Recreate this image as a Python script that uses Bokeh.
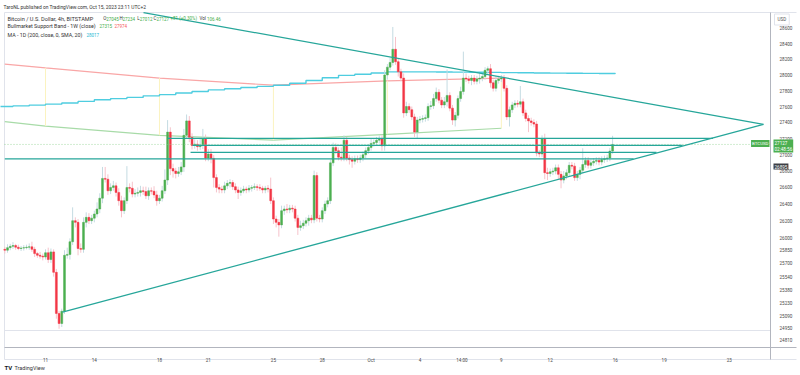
import math
from bokeh.plotting import figure
from bokeh.models import Range1d, FixedTicker, NumeralTickFormatter, Label
from bokeh.embed import file_html
from bokeh.resources import INLINE

# ---------------- data ----------------
first_open = 25860
candle_start = 8.5          # day-of-September of first 4h candle (Sep 8, 12:00)
candle_step = 1.0 / 6.0     # 4 hours in days
closes = [
    25850, 25880, 25895, 25905, 25885, 25870, 25875, 25880, 25885, 25890,
    25860, 25810, 25790, 25780, 25770, 25820, 25740, 25830, 25590, 25115,
    25000, 25140, 25790, 25800, 25950, 26200, 26180, 25870, 25860, 26180,
    26240, 26200, 26230, 26280, 26340, 26470, 26710, 26700, 26560, 26600,
    26620, 26540, 26440, 26320, 26440, 26600, 26590, 26520, 26530, 26540,
    26560, 26550, 26500, 26560, 26555, 26510, 26440, 26470, 26560, 26690,
    27280, 26830, 26800, 26770, 26790, 26850, 27240, 27420, 27215, 27115,
    27130, 27100, 27120, 27200, 26960, 27010, 26955, 26720, 26600, 26580,
    26570, 26620, 26650, 26660, 26610, 26570, 26540, 26560, 26580, 26570,
    26590, 26600, 26610, 26600, 26590, 26570, 26590, 26580, 26440, 26220,
    26180, 26150, 26320, 26340, 26330, 26350, 26340, 26230, 26120, 26140,
    26170, 26200, 26230, 26210, 26745, 26230, 26220, 26320, 26400, 26440,
    26900, 27090, 27050, 26970, 26960, 27180, 26960, 26940, 26920, 26950,
    26940, 26960, 27000, 27050, 27090, 27140, 27150, 27180, 27200, 27110,
    28000, 28100, 28160, 28330, 28170, 28040, 27960, 27520, 27600, 27560,
    27470, 27280, 27430, 27440, 27450, 27460, 27600, 27610, 27700, 27780,
    27680, 27620, 27660, 27740, 27580, 27430, 27490, 27700, 27790, 27960,
    27950, 27930, 27960, 27920, 27950, 27960, 27980, 28060, 28080, 27900,
    27830, 27930, 27950, 27960, 27830, 27470, 27560, 27620, 27640, 27630,
    27660, 27520, 27450, 27420, 27400, 27380, 27020, 27010, 27200, 26780,
    26770, 26790, 26800, 26840, 26760, 26690, 26740, 26780, 26870, 26860,
    26720, 26760, 26810, 26880, 26930, 26870, 26900, 26920, 26930, 26910,
    26940, 26950, 26960, 27045, 27127]
upper_wick = [
    30, 40, 30, 40, 20, 30, 25, 30, 30, 40,
    60, 30, 20, 40, 30, 40, 60, 40, 30, 40,
    30, 30, 60, 80, 40, 160, 40, 40, 60, 60,
    60, 50, 40, 40, 80, 60, 140, 140, 60, 50,
    60, 40, 50, 60, 40, 260, 50, 80, 50, 60,
    60, 50, 60, 40, 40, 60, 50, 40, 60, 130,
    150, 60, 60, 40, 60, 60, 80, 80, 60, 50,
    60, 50, 80, 120, 50, 60, 60, 40, 40, 40,
    40, 50, 40, 40, 30, 40, 40, 40, 40, 30,
    40, 30, 40, 30, 40, 30, 30, 40, 140, 40,
    40, 40, 60, 40, 60, 40, 40, 40, 40, 60,
    40, 40, 40, 40, 60, 40, 40, 40, 40, 40,
    40, 60, 50, 40, 120, 60, 40, 40, 40, 40,
    40, 40, 40, 40, 40, 60, 40, 40, 40, 40,
    60, 40, 60, 290, 160, 40, 40, 60, 60, 40,
    40, 40, 40, 40, 40, 40, 40, 60, 60, 60,
    40, 40, 60, 330, 40, 40, 40, 40, 60, 340,
    60, 40, 40, 40, 40, 60, 40, 40, 30, 60,
    40, 60, 40, 40, 40, 40, 40, 40, 40, 40,
    200, 40, 40, 40, 40, 40, 40, 40, 40, 60,
    60, 40, 40, 40, 40, 40, 60, 40, 40, 40,
    40, 40, 40, 200, 40, 40, 40, 40, 40, 40,
    40, 40, 40, 40, 107]
lower_wick = [
    40, 30, 30, 30, 30, 20, 30, 30, 20, 30,
    30, 40, 30, 30, 40, 30, 40, 40, 50, 60,
    60, 40, 30, 40, 60, 40, 60, 80, 40, 40,
    60, 40, 40, 50, 40, 50, 60, 40, 50, 40,
    40, 50, 60, 80, 40, 40, 50, 40, 40, 40,
    50, 40, 40, 50, 40, 40, 60, 40, 40, 40,
    60, 80, 80, 60, 40, 40, 60, 40, 60, 50,
    40, 50, 40, 50, 40, 40, 60, 120, 60, 50,
    40, 40, 40, 50, 40, 40, 80, 40, 30, 40,
    30, 40, 30, 40, 30, 40, 40, 40, 40, 60,
    60, 140, 40, 50, 40, 40, 40, 40, 90, 40,
    40, 40, 60, 40, 40, 40, 40, 40, 40, 40,
    40, 40, 40, 40, 40, 40, 40, 60, 80, 40,
    40, 40, 40, 40, 40, 40, 40, 40, 40, 60,
    60, 60, 40, 40, 40, 60, 40, 60, 40, 40,
    40, 60, 80, 40, 40, 40, 40, 40, 40, 40,
    40, 40, 40, 60, 40, 60, 80, 40, 40, 40,
    40, 40, 60, 40, 40, 60, 40, 40, 60, 60,
    40, 40, 40, 40, 40, 40, 120, 40, 40, 40,
    40, 40, 40, 140, 40, 40, 40, 40, 40, 80,
    80, 40, 40, 40, 60, 100, 40, 40, 40, 40,
    40, 40, 60, 40, 40, 40, 40, 40, 40, 40,
    40, 40, 40, 40, 33]

# Bullmarket Support Band (1W) – weekly points
band_days = [8.5, 11, 18, 25, 32, 39]
band_red = [28140, 28090, 27960, 27870, 27925, 27960]
band_green = [27410, 27355, 27240, 27180, 27253, 27328]

# MA 200 (1D) – daily values
ma_days = list(range(8, 47))
ma_values = [27600, 27608, 27618, 27630, 27645, 27665, 27685, 27700, 27715, 27735,
             27750, 27770, 27790, 27810, 27825, 27840, 27855, 27870, 27895, 27930,
             27965, 27995, 28010, 28025, 28040, 28040, 28040, 28038, 28036, 28035,
             28033, 28030, 28028, 28026, 28024, 28022, 28020, 28018, 28017]

# drawings: triangle lines and horizontal levels
upper_line_days = [17.02, 55.10]
upper_line_prices = [28809, 27376]
lower_line_days = [12.04, 55.10]
lower_line_prices = [25130, 27376]
level_prices = [27202, 27115, 27030, 26950]
level_start = [18.49, 20.03, 19.91, 8.5]
level_end = [52.0, 50.13, 48.53, 47.12]
last_price = 27127

# axis ticks
price_ticks = [24810, 24950, 25090, 25230, 25380, 25540, 25700, 25850, 26000, 26200,
               26400, 26600, 26800, 27000, 27200, 27400, 27600, 27800, 28000, 28200,
               28400, 28600]
day_ticks = [11, 14, 18, 21, 25, 28, 31, 34, 36.58, 39, 42, 46, 49, 53]
day_labels = ["11", "14", "18", "21", "25", "28", "Oct", "4", "14:00", "9", "12", "16", "19", "23"]

# ---------------- layout helpers (pixel <-> data of the pane) ----------------
W, H = 800, 375


def dx(px):      # page x -> day
    return 11 + (px - 45) / 16.28


def py(yp):      # page y -> price (log scale)
    return 26000 * math.exp((237 - yp) / 2193)


# ---------------- derived ----------------
n = len(closes)
times = [candle_start + i * candle_step for i in range(n)]
opens = [first_open] + closes[:-1]
highs = [max(o, c) + w for o, c, w in zip(opens, closes, upper_wick)]
lows = [min(o, c) - w for o, c, w in zip(opens, closes, lower_wick)]

UP, DOWN = "#4caf50", "#f23645"
UPW, DOWNW = "#c4dbe2", "#f6c3cb"
TEAL = "#26a69a"
FONT = "Roboto"
BORDER = "#e0e3eb"
AXLINE = "#b2b5be"

p = figure(width=W, height=H, x_range=Range1d(dx(0), dx(W)),
           y_range=Range1d(py(H), py(0)), y_axis_type="log", y_axis_location="right",
           output_backend="svg", toolbar_location=None,
           min_border_left=0, min_border_right=0, min_border_top=0, min_border_bottom=0)
p.background_fill_color = "white"
p.border_fill_color = "white"
p.outline_line_color = None
p.xgrid.visible = False
p.ygrid.visible = False

ax = p.yaxis[0]
ax.fixed_location = dx(770)
ax.bounds = (py(359), py(12))
ax.ticker = FixedTicker(ticks=price_ticks)
ax.formatter = NumeralTickFormatter(format="0")
ax.major_label_text_font_size = "4.6px"
ax.major_label_text_color = "#4a4a4a"
ax.major_label_text_font = FONT
ax.major_tick_line_color = None
ax.minor_tick_line_color = None
ax.axis_line_color = AXLINE
ax.major_label_standoff = 3

xa = p.xaxis[0]
xa.fixed_location = py(347)
xa.bounds = (dx(4), dx(796))
xa.ticker = FixedTicker(ticks=day_ticks)
xa.major_label_overrides = {t: l for t, l in zip(day_ticks, day_labels)}
xa.major_label_text_font_size = "4.6px"
xa.major_label_text_color = "#4a4a4a"
xa.major_label_text_font = FONT
xa.major_tick_line_color = None
xa.minor_tick_line_color = None
xa.axis_line_color = AXLINE
xa.major_label_standoff = 4

# pane borders
p.segment(x0=[dx(4), dx(4), dx(4), dx(4)], y0=[py(12), py(359), py(330), py(12)],
          x1=[dx(796), dx(796), dx(770), dx(4)], y1=[py(12), py(359), py(330), py(359)],
          line_color=BORDER, line_width=1)

# band + MA
p.line(band_days, band_red, line_color="#f9a6a6", line_width=1.2)
p.line(band_days, band_green, line_color="#a8dba8", line_width=1.2)
p.segment(x0=band_days[1:], y0=band_red[1:], x1=band_days[1:], y1=band_green[1:],
          line_color="#fbf3c0", line_width=1)
p.step(ma_days, ma_values, mode="after", line_color="#4fcde0", line_width=1.4)

# candles
up_idx = [i for i in range(n) if closes[i] >= opens[i]]
dn_idx = [i for i in range(n) if closes[i] < opens[i]]
for idx, fc, wc in ((up_idx, UP, UPW), (dn_idx, DOWN, DOWNW)):
    t = [times[i] for i in idx]
    p.segment(x0=t, y0=[lows[i] for i in idx], x1=t, y1=[highs[i] for i in idx],
              line_color=wc, line_width=1)
    p.vbar(x=t, width=candle_step * 0.7,
           top=[max(opens[i], closes[i]) for i in idx],
           bottom=[min(opens[i], closes[i]) for i in idx],
           fill_color=fc, line_color=fc, line_width=0.5)

# last price line
p.segment(x0=[dx(4)], y0=[last_price], x1=[dx(770)], y1=[last_price],
          line_color="#8fd18f", line_width=0.8, line_dash="1 2")

# drawings
p.line(upper_line_days, upper_line_prices, line_color=TEAL, line_width=1.3)
p.line(lower_line_days, lower_line_prices, line_color=TEAL, line_width=1.3)
p.segment(x0=level_start, y0=level_prices, x1=level_end, y1=level_prices,
          line_color=TEAL, line_width=1.3)


def lab(xp, yp, text, color="#131722", size="6px", bold=False, bg=None,
        align="left", border=None, pad=0):
    p.add_layout(Label(x=xp, y=H - yp, x_units="screen", y_units="screen",
                       text=text, text_color=color, text_font_size=size, text_font=FONT,
                       text_baseline="middle", text_align=align,
                       text_font_style="bold" if bold else "normal",
                       background_fill_color=bg, border_line_color=border, padding=pad))


GREEN_T = "#3fae49"
TXT = "#333"
NUM = "4.5px"
WORD = "5.6px"
WORD2 = "5.3px"
# title and legend
lab(3, 6.5, "TaroNL published on TradingView.com, Oct 15, 2023 23:11 UTC+2", color=TXT, size="4.9px")
lab(7, 18, "Bitcoin / U.S. Dollar, 4h, BITSTAMP", color=TXT, size=WORD)
lab(102.7, 18, "O", color=TXT, size=NUM)
lab(105.7, 18, "27045", color=GREEN_T, size=NUM)
lab(119, 18, "H", color=TXT, size=NUM)
lab(122, 18, "27234", color=GREEN_T, size=NUM)
lab(136.7, 18, "L", color=TXT, size=NUM)
lab(139.3, 18, "27012", color=GREEN_T, size=NUM)
lab(153, 18, "C", color=TXT, size=NUM)
lab(156, 18, "27127", color=GREEN_T, size=NUM)
lab(170, 18, "+81 (+0.30%)", color=GREEN_T, size=NUM)
lab(199, 18, "Vol", color=TXT, size=NUM)
lab(206.5, 18, "106.46", color=GREEN_T, size=NUM)
lab(7, 25.3, "Bullmarket Support Band - 1W (close)", color=TXT, size=WORD2)
lab(99, 25.3, "27315", color=GREEN_T, size=NUM)
lab(114, 25.3, "27974", color="#f55a5a", size=NUM)
lab(7, 34, "MA - 1D (200, close, 0, SMA, 20)", color=TXT, size=WORD2)
lab(86, 34, "28017", color="#1fb8d4", size=NUM)

# axis annotations
lab(774, 19, "USD", color="#555", bg="white", border=BORDER, pad=3, size="4.6px")
lab(769, 143, "BTCUSD", color="white", bg="#4caf50", align="right", pad=1, size="4.4px")
lab(773, 145.5, "27127\n02:48:56", color="white", bg="#4caf50", pad=1, size="4.6px")
lab(773, 166, "26895", color="white", bg="#3d3f45", pad=1, size="4.6px")

# footer
lab(4, 367, "TV", color="#131722", bold=True, size="6px")
lab(14, 367, "TradingView", color=TXT, size="5.5px")

open("out.html", "w").write(file_html(p, INLINE))
